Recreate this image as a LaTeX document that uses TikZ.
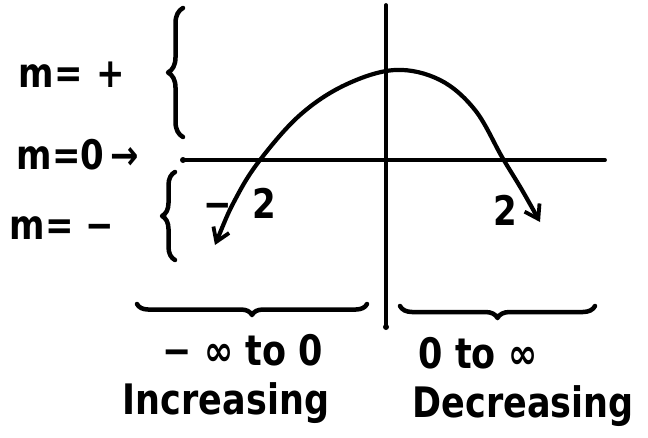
\documentclass[tikz,border=0pt]{standalone}
\usepackage{fontspec}
\setmainfont{DejaVu Sans}
\usetikzlibrary{arrows.meta,decorations.pathreplacing}
\newcommand{\tall}[1]{\scalebox{1}[1.2]{#1}}
\begin{document}
\begin{tikzpicture}[x=1pt,y=1pt,
  ink/.style={line width=3.8pt,line cap=round,line join=round,black},
  curly/.style={ink,line width=4.5pt,decorate,decoration={brace,amplitude=#1}},
  lbl/.style={font=\fontsize{34}{36}\selectfont\bfseries,inner sep=0pt},
  big/.style={font=\fontsize{35}{37}\selectfont\bfseries,inner sep=0pt},
  hbarb/.tip={Straight Barb[length=13pt,width=17pt,line width=3.8pt]}]
\useasboundingbox (0,0) rectangle (648,-437);
% axes
\coordinate (xl) at (183,-160);
\coordinate (xr) at (605,-160);
\coordinate (yt) at (386,-5);
\coordinate (yb) at (386,-327);
\draw[ink] (xl) -- (xr);
\draw[ink] (yt) -- (yb);
\fill (xl) circle (3pt);
\fill (yb) circle (3pt);
% parabola
\draw[ink,line width=4.2pt,{hbarb}-{hbarb}] plot[smooth,tension=0.6] coordinates
  {(215,-245) (236,-198) (260,-160) (300,-115) (345,-85) (395,-70) (440,-80) (475,-110) (502,-157) (522,-190) (540,-222)};
% braces
\draw[curly=15pt] (183,-137) -- (183,-8);
\draw[curly=13pt] (175,-260) -- (175,-172);
\draw[curly=11pt] (367,-304) -- (137,-304);
\draw[curly=12pt] (595,-306) -- (400,-306);
% labels
\node[lbl] (mp) at (72,-75) {\tall{m=\hspace{14pt}+}};
\node[lbl] (m0) at (78,-155) {\tall{m=0\hspace{6pt}→}};
\node[lbl] (mn) at (62,-228) {\tall{m=\hspace{12pt}−}};
\node[lbl] (n2) at (240,-203) {\tall{−\hspace{20pt}2}};
\node[lbl] (p2) at (505,-210) {\tall{2}};
\node[big] (r1) at (243,-350) {\tall{− ∞ to 0}};
\node[big] (r2) at (478,-353) {\tall{0 to ∞}};
\node[big] (t1) at (226,-403) {\tall{Increasing}};
\node[big] (t2) at (523,-406) {\tall{Decreasing}};
\end{tikzpicture}
\end{document}
